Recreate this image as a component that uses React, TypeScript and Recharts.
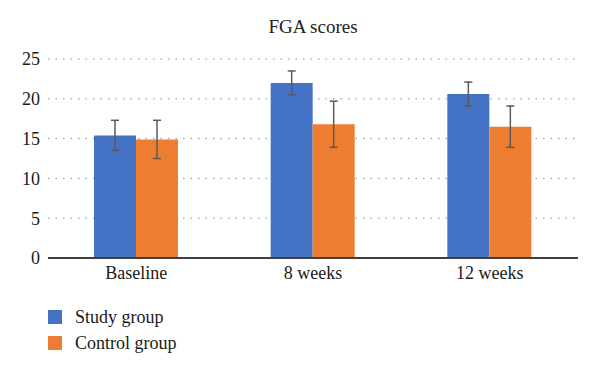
import { Bar, BarChart, CartesianGrid, ErrorBar, XAxis, YAxis } from 'recharts';

const categories = ['Baseline', '8 weeks', '12 weeks'];
const studyMeans = [15.4, 22.0, 20.6];
const studyErr = [1.9, 1.5, 1.5];
const controlMeans = [14.9, 16.8, 16.5];
const controlErr = [2.4, 2.9, 2.6];
const yTicks = [0, 5, 10, 15, 20, 25];

const series = [
    { key: 'study', err: 'studyErr', name: 'Study group', color: '#4472C4' },
    { key: 'control', err: 'controlErr', name: 'Control group', color: '#ED7D31' },
];

const chartData = categories.map((name, i) => ({
    name,
    study: studyMeans[i],
    studyErr: studyErr[i],
    control: controlMeans[i],
    controlErr: controlErr[i],
}));

const font = 'Times New Roman, Tinos, Liberation Serif, DejaVu Serif, Noto Serif, serif';

export default function App() {
    return (
        <div style={{ position: 'absolute', left: 0, top: 0, width: 600, height: 374, background: '#fff', fontFamily: font }}>
            <div style={{ position: 'absolute', left: 48, width: 530, top: 16, textAlign: 'center', fontSize: 19, color: '#222' }}>
                FGA scores
            </div>
            <BarChart
                width={600}
                height={374}
                data={chartData}
                margin={{ top: 59, right: 22, left: 0, bottom: 86 }}
                barGap={0}
                barSize={42}
            >
                <CartesianGrid vertical={false} stroke="#8a8a8a" strokeDasharray="1.5 6" />
                <XAxis
                    dataKey="name"
                    tickLine={false}
                    stroke="#404040"
                    strokeWidth={2}
                    tick={{ fill: '#1a1a1a', fontSize: 18, fontFamily: font }}
                />
                <YAxis
                    width={48}
                    domain={[0, 25]}
                    ticks={yTicks}
                    axisLine={false}
                    tickLine={false}
                    tick={{ fill: '#1a1a1a', fontSize: 18, fontFamily: font }}
                />
                {series.map((s) => (
                    <Bar key={s.key} dataKey={s.key} name={s.name} fill={s.color} isAnimationActive={false}>
                        <ErrorBar dataKey={s.err} width={4} stroke="#5a5a5a" strokeWidth={1.5} direction="y" />
                    </Bar>
                ))}
            </BarChart>
            <div style={{ position: 'absolute', left: 48, top: 304, fontSize: 18, color: '#1a1a1a' }}>
                {series.map((s) => (
                    <div key={s.key} style={{ display: 'flex', alignItems: 'center', height: 26 }}>
                        <span style={{ width: 14, height: 14, background: s.color, marginRight: 13 }} />
                        {s.name}
                    </div>
                ))}
            </div>
        </div>
    );
}
